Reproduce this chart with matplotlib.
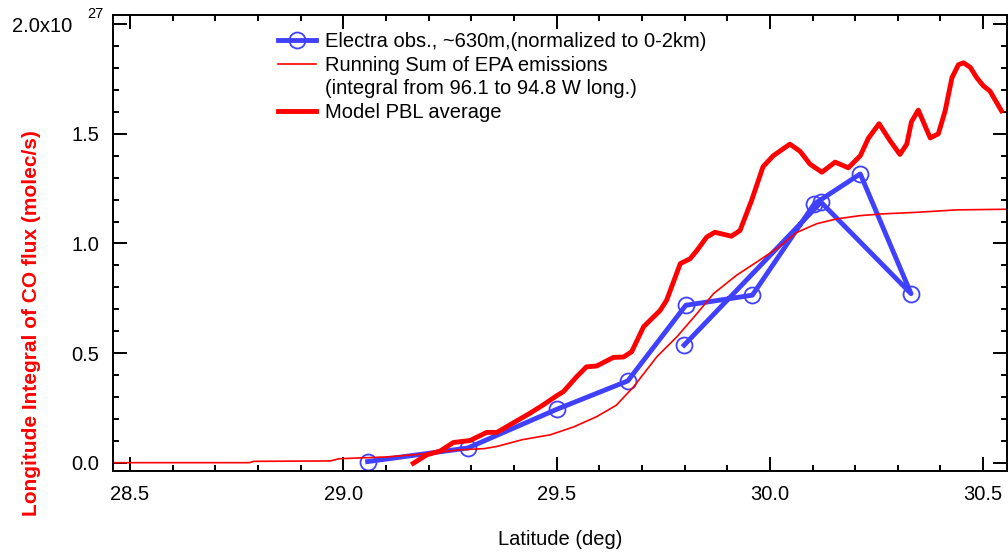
import numpy as np
import matplotlib.pyplot as plt
from matplotlib.lines import Line2D
from matplotlib.ticker import MultipleLocator

plt.rcParams['font.family'] = ['Liberation Sans', 'DejaVu Sans']

# Electra observations (flight track order)
obs_lat = [29.057, 29.292, 29.501, 29.667, 29.803, 29.959, 30.104, 30.212, 30.331, 30.120, 29.799]
obs_val = [0.005, 0.067, 0.244, 0.373, 0.718, 0.764, 1.180, 1.317, 0.771, 1.188, 0.536]

# running sum of EPA emissions
epa_lat = [28.46, 28.78, 28.79, 28.97, 28.99, 29.10, 29.19, 29.27, 29.33, 29.36, 29.42, 29.485,
           29.54, 29.594, 29.64, 29.68, 29.696, 29.735, 29.782, 29.829, 29.868, 29.922, 29.969,
           30.016, 30.063, 30.11, 30.157, 30.212, 30.266, 30.344, 30.438, 30.556]
epa_val = [0.0, 0.0, 0.006, 0.008, 0.018, 0.026, 0.040, 0.058, 0.064, 0.074, 0.105, 0.127,
           0.163, 0.21, 0.262, 0.345, 0.385, 0.483, 0.574, 0.68, 0.771, 0.855, 0.915,
           0.976, 1.05, 1.09, 1.112, 1.127, 1.135, 1.142, 1.153, 1.156]

# model PBL average
pbl_lat = [29.164, 29.196, 29.227, 29.258, 29.297, 29.336, 29.36, 29.391, 29.438, 29.469, 29.50,
           29.516, 29.547, 29.57, 29.594, 29.633, 29.657, 29.676, 29.704, 29.743, 29.758, 29.79,
           29.813, 29.829, 29.852, 29.871, 29.91, 29.93, 29.957, 29.984, 30.008, 30.047, 30.071,
           30.094, 30.122, 30.153, 30.184, 30.212, 30.231, 30.256, 30.282, 30.305, 30.321, 30.332,
           30.348, 30.376, 30.395, 30.411, 30.427, 30.442, 30.454, 30.47, 30.485, 30.501, 30.516,
           30.543]
pbl_val = [-0.003, 0.036, 0.053, 0.092, 0.101, 0.138, 0.138, 0.173, 0.226, 0.264, 0.305,
           0.324, 0.392, 0.437, 0.441, 0.48, 0.482, 0.506, 0.62, 0.695, 0.741, 0.908,
           0.93, 0.968, 1.029, 1.051, 1.033, 1.059, 1.195, 1.35, 1.40, 1.453, 1.42,
           1.362, 1.325, 1.371, 1.345, 1.40, 1.48, 1.546, 1.468, 1.406, 1.453, 1.555,
           1.608, 1.481, 1.50, 1.605, 1.756, 1.815, 1.824, 1.803, 1.756, 1.718, 1.695,
           1.605]

blue = '#4040ff'
red = '#ff0000'
fs = 14.5

fig = plt.figure(figsize=(10.08, 5.54), dpi=100)
ax = fig.add_axes([113 / 1008, 1 - 471 / 554, 894 / 1008, 456 / 554])

ax.plot(obs_lat, obs_val, '-o', color=blue, linewidth=3.5, markersize=11.5,
        markerfacecolor='none', markeredgewidth=1.3)
ax.plot(epa_lat, epa_val, '-', color=red, linewidth=1.2)
ax.plot(pbl_lat, pbl_val, '-', color=red, linewidth=3.5)

ax.set_xlim(28.46, 30.556)
ax.set_ylim(-0.038, 2.042)
ax.xaxis.set_minor_locator(MultipleLocator(0.1))
ax.yaxis.set_minor_locator(MultipleLocator(0.1))
ax.set_yticks([0, 0.5, 1.0, 1.5, 2.0])
ax.set_yticklabels(['0.0', '0.5', '1.0', '1.5', ''])
ax.set_xticks([28.5, 29.0, 29.5, 30.0, 30.5])
ax.set_xticklabels(['28.5', '29.0', '29.5', '30.0', '30.5'])

ax.tick_params(which='both', direction='in', top=True, right=True, width=1.4, labelsize=fs)
ax.tick_params(which='major', length=10, pad=10)
ax.tick_params(axis='x', which='major', pad=10)
ax.tick_params(which='minor', length=4.5)
for s in ax.spines.values():
    s.set_linewidth(1.4)

fig.text(72 / 1008, 1 - 27 / 554, '2.0x10', ha='right', va='center', fontsize=fs)
fig.text(87 / 1008, 1 - 14.5 / 554, '27', ha='left', va='center', fontsize=10.5)

ax.set_xlabel('Latitude (deg)', fontsize=fs, labelpad=19)
fig.text(32 / 1008, 1 - 323 / 554, 'Longitude Integral of CO flux (molec/s)', rotation=90,
         ha='center', va='center', fontsize=15, fontweight='bold', color=red)

handles = [Line2D([], [], color=blue, linewidth=3.5, marker='o', markersize=11.5,
                  markerfacecolor='none', markeredgewidth=1.3),
           Line2D([], [], color=red, linewidth=1.2),
           Line2D([], [], color='none'),
           Line2D([], [], color=red, linewidth=3.5)]
labels = ['Electra obs., ~630m,(normalized to 0-2km)',
          'Running Sum of EPA emissions',
          '(integral from 96.1 to 94.8 W long.)',
          'Model PBL average']
leg = ax.legend(handles, labels, loc='upper left', bbox_to_anchor=(0.1846, 0.963),
                frameon=False, borderpad=0, borderaxespad=0, fontsize=fs,
                handlelength=1.9, handletextpad=0.45, labelspacing=0.235)

fig.savefig('out.png', dpi=100)
